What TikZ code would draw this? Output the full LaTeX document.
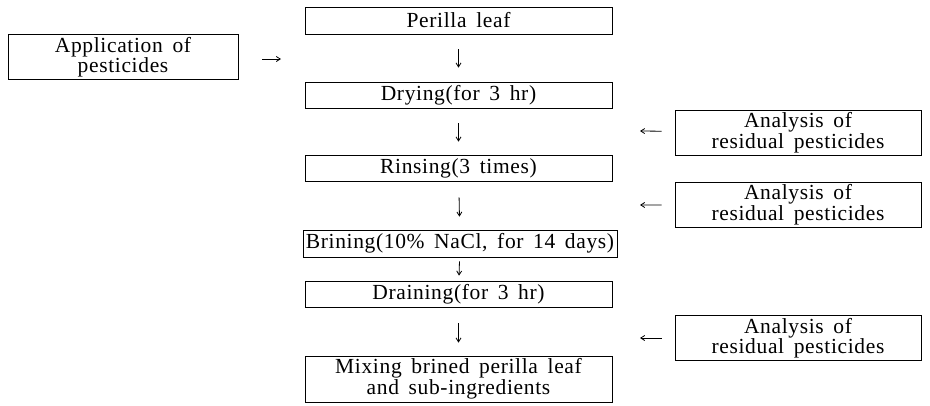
\documentclass[tikz,border=0pt]{standalone}
\usepackage{fontspec}
\setmainfont{Liberation Serif}[LetterSpace=3,WordSpace=1.6]
\usetikzlibrary{arrows.meta}
\begin{document}
\begin{tikzpicture}[x=1pt,y=-1pt,
  box/.style={draw, line width=0.7pt, inner sep=0pt, align=center,
    font=\fontsize{21.5}{19.5}\selectfont},
  mainbox/.style={box, minimum width=307pt},
  anbox/.style={box, minimum width=246pt, minimum height=45pt},
  arr/.style={-{Straight Barb[length=4pt,width=5pt]}, line width=0.8pt}]
\useasboundingbox (0,0) rectangle (930,405);
\node[mainbox, minimum height=27pt] (perilla) at (458.5,20.5) {Perilla leaf};
\node[mainbox, minimum height=26pt] (drying) at (458.5,95) {Drying(for 3 hr)};
\node[mainbox, minimum height=26pt] (rinsing) at (458.5,168) {Rinsing(3 times)};
\node[box, minimum width=314pt, minimum height=27pt] (brining) at (460,243.5) {Brining(10\% NaCl, for 14 days)};
\node[mainbox, minimum height=26pt] (draining) at (458.5,294) {Draining(for 3 hr)};
\node[mainbox, minimum height=46pt] (mixing) at (458.5,379) {Mixing brined perilla leaf\\and sub-ingredients};
\node[box, minimum width=230pt, minimum height=45pt] (app) at (123,57) {Application of\\pesticides};
\node[anbox] (an1) at (798,132.5) {Analysis of\\residual pesticides};
\node[anbox] (an2) at (798,204.5) {Analysis of\\residual pesticides};
\node[anbox] (an3) at (798,338) {Analysis of\\residual pesticides};
\coordinate (t0) at (281,59);
\coordinate (t1) at (640,131);
\coordinate (t2) at (640,205);
\coordinate (t3) at (640,338);
\draw[arr, shorten <=24pt] (app.east |- t0) -- (t0);
\draw[arr, shorten <=15pt, shorten >=14pt] (perilla) -- (drying);
\draw[arr, shorten <=15pt, shorten >=13pt] (drying) -- (rinsing);
\draw[arr, shorten <=16pt, shorten >=13pt] (rinsing) -- (brining);
\draw[arr, shorten <=4pt, shorten >=5pt] (brining) -- (draining);
\draw[arr, shorten <=16pt, shorten >=13pt] (draining) -- (mixing);
\draw[arr, shorten <=13pt] (an1) -- (t1);
\draw[arr, shorten <=13pt] (an2) -- (t2);
\draw[arr, shorten <=13pt] (an3) -- (t3);
\end{tikzpicture}
\end{document}
